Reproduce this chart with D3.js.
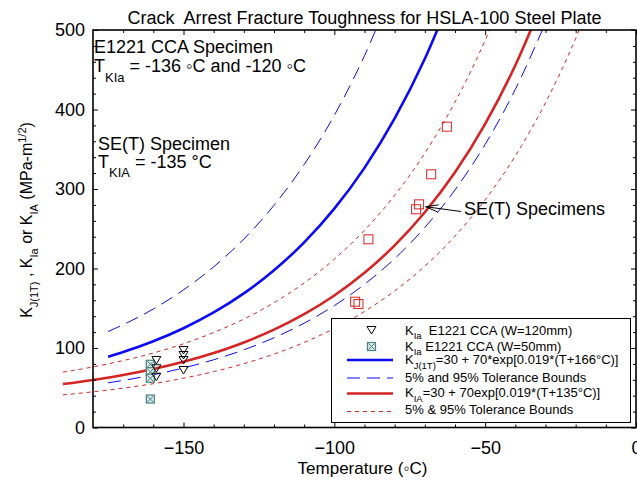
<!DOCTYPE html>
<html>
<head>
<meta charset="utf-8">
<script src="https://cdn.jsdelivr.net/npm/d3@7"></script>
<style>
  body { margin: 0; background: #fff; }
  text { font-family: "Liberation Sans", Arial, Helvetica, sans-serif; fill: #000; white-space: pre; }
</style>
</head>
<body>
<svg id="chart" width="637" height="482"></svg>
<script>
// values

// K_IA curve (SE(T), T0 = -135) and its bounds, every 10 C
const redTemps = [-190, -180, -170, -160, -150, -140, -130, -120, -110, -100, -90, -80, -70, -60, -50, -40, -30, -20, -10];
const kiaMean  = [54.6, 59.8, 66.0, 73.5, 82.6, 93.7, 107.0, 123.1, 142.6, 166.1, 194.6, 229.0, 270.7, 321.0, 382.0, 455.6, 544.7];
const kiaUpper = [69.6, 76.2, 84.2, 93.7, 105.3, 119.5, 136.4, 157.0, 181.8, 211.8, 248.1, 292.0, 345.1, 409.3, 487.1, 580.9];
const kiaLower = [41.0, 44.9, 49.5, 55.1, 62.0, 70.3, 80.3, 92.3, 107.0, 124.6, 146.0, 171.8, 203.0, 240.8, 286.5, 341.7, 408.5, 489.3, 587.0];

// K_J(1T) curve (T0 = -166) and its bounds
const blueTemps = [-175, -170, -160, -150, -140, -130, -120, -110, -100, -90, -80, -70, -60, -50, -40, -30];
const kjMean  = [89.0, 94.9, 108.5, 124.9, 144.7, 168.7, 197.8, 232.9, 275.3, 326.6, 388.7, 463.8, 554.6];
const kjUpper = [120.7, 129.3, 149.1, 173.1, 202.1, 237.1, 279.5, 330.8, 392.7, 467.7, 558.3];
const kjLower = [56.2, 59.2, 66.3, 74.9, 85.2, 97.7, 112.9, 131.2, 153.3, 180.1, 212.4, 251.6, 298.9, 356.1, 425.4, 509.1];

// K_Ia, E1221 CCA, W=120mm
const cca120T = [-159, -159, -159, -150, -150, -150, -150];
const cca120K = [84.9, 74.5, 63.9, 97.5, 91.2, 84.9, 72.3];
// K_Ia, E1221 CCA, W=50mm
const cca50T = [-161, -161, -161, -161];
const cca50K = [79.5, 70.2, 61.9, 35.8];
// SE(T) specimens
const setT = [-62.7, -67.9, -71.9, -72.9, -88.7, -93.1, -92.0];
const setK = [378.4, 318.5, 280.7, 274.5, 236.7, 158.2, 155.3];

const xMajor = [-150, -100, -50, 0];
const yMajor = [0, 100, 200, 300, 400, 500];

const BLUE = '#0a0af5';
const RED = '#d42424';
const TEAL = '#4a8282';

const margin = { top: 30, right: 1, bottom: 54.5, left: 93 };
const W = 637, H = 482;
const width = W - margin.left - margin.right;
const height = H - margin.top - margin.bottom;

const svg = d3.select('#chart');
const g = svg.append('g').attr('transform', `translate(${margin.left},${margin.top})`);

const x = d3.scaleLinear().domain([-180, 0]).range([0, width]);
const y = d3.scaleLinear().domain([0, 500]).range([height, 0]);

// text with sub/superscripts
function richText(sel, px, py, parts, size, subSize, shift) {
  const t = sel.append('text').attr('x', px).attr('y', py).style('font-size', size + 'px');
  let off = 0;
  parts.forEach(p => {
    const want = p.sub ? shift : (p.sup ? -shift : 0);
    t.append('tspan')
      .attr('dy', want - off)
      .style('font-size', (p.sub || p.sup ? subSize : size) + 'px')
      .text(p.t);
    off = want;
  });
  return t;
}

// clip only the top/right, red curves run past the left axis
svg.append('clipPath').attr('id', 'clip')
  .append('rect').attr('x', -40).attr('y', 0).attr('width', width + 40).attr('height', height);

const line = d3.line()
  .x(d => x(d[0]))
  .y(d => y(d[1]))
  .curve(d3.curveMonotoneX);

function curve(temps, vals, color, w, dash) {
  const pts = vals.map((v, i) => [temps[i], v]);
  g.append('path')
    .attr('clip-path', 'url(#clip)')
    .attr('d', line(pts))
    .attr('fill', 'none')
    .attr('stroke', color)
    .attr('stroke-width', w)
    .attr('stroke-dasharray', dash || null);
}

curve(blueTemps, kjUpper, BLUE, 1, '13,7');
curve(blueTemps, kjLower, BLUE, 1, '13,7');
curve(blueTemps, kjMean, BLUE, 2.6);
curve(redTemps, kiaUpper, RED, 1, '4,4');
curve(redTemps, kiaLower, RED, 1, '4,4');
curve(redTemps, kiaMean, RED, 2.6);

// markers
const triPath = 'M-4.5,-3.5L4.5,-3.5L0,4Z';
function crossBox(sel) {
  sel.append('rect').attr('x', -4).attr('y', -4).attr('width', 8).attr('height', 8)
    .attr('fill', '#dde9e9').attr('stroke', TEAL).attr('stroke-width', 1.2);
  sel.append('path').attr('d', 'M-3,-3L3,3M3,-3L-3,3')
    .attr('stroke', TEAL).attr('stroke-width', 1);
}

g.selectAll('.c50').data(cca50T).enter().append('g')
  .attr('transform', (d, i) => `translate(${x(d)},${y(cca50K[i])})`)
  .each(function () { crossBox(d3.select(this)); });

g.selectAll('.c120').data(cca120T).enter().append('path')
  .attr('transform', (d, i) => `translate(${x(d)},${y(cca120K[i])})`)
  .attr('d', triPath)
  .attr('fill', 'none').attr('stroke', '#000').attr('stroke-width', 1);

g.selectAll('.set').data(setT).enter().append('rect')
  .attr('x', d => x(d) - 4.5)
  .attr('y', (d, i) => y(setK[i]) - 4.5)
  .attr('width', 9).attr('height', 9)
  .attr('fill', 'none').attr('stroke', RED).attr('stroke-width', 1);

// axes, ticks inward
function axisSet(gen, vals, size, labels) {
  return gen.tickValues(vals).tickSize(-size).tickFormat(labels ? d3.format('d') : '');
}
const xMinor = d3.range(-170, 0, 10).filter(v => v % 50 !== 0);
const yMinor = d3.range(20, 500, 20).filter(v => v % 100 !== 0);

const gx = g.append('g').attr('transform', `translate(0,${height})`)
  .call(axisSet(d3.axisBottom(x), xMajor, 5, true).tickPadding(14));
g.append('g').attr('transform', `translate(0,${height})`).call(axisSet(d3.axisBottom(x), xMinor, 3, false));
g.append('g').call(axisSet(d3.axisTop(x), xMajor, 5, false));
g.append('g').call(axisSet(d3.axisTop(x), xMinor, 3, false));

const gy = g.append('g').call(axisSet(d3.axisLeft(y), yMajor, 5, true).tickPadding(8));
g.append('g').call(axisSet(d3.axisLeft(y), yMinor, 3, false));
g.append('g').attr('transform', `translate(${width},0)`).call(axisSet(d3.axisRight(y), yMajor, 5, false));
g.append('g').attr('transform', `translate(${width},0)`).call(axisSet(d3.axisRight(y), yMinor, 3, false));

g.selectAll('.domain').remove();
g.selectAll('.tick line').attr('stroke', '#000').attr('stroke-width', 1);
gx.selectAll('text').style('font-size', '18px').attr('font-family', null);
gy.selectAll('text').style('font-size', '18px').attr('font-family', null);

g.append('rect').attr('width', width).attr('height', height)
  .attr('fill', 'none').attr('stroke', '#000').attr('stroke-width', 1.6);

// title and axis labels
svg.append('text').attr('x', margin.left + width / 2).attr('y', 24)
  .attr('text-anchor', 'middle').style('font-size', '18px')
  .text('Crack  Arrest Fracture Toughness for HSLA-100 Steel Plate');

svg.append('text').attr('x', margin.left + width / 2 - 2).attr('y', 474)
  .attr('text-anchor', 'middle').style('font-size', '17px')
  .text('Temperature (\u25E6C)');

const yl = svg.append('g').attr('transform', 'translate(32,220) rotate(-90)');
richText(yl, 0, 0, [
  { t: 'K' }, { t: 'J(1T)', sub: true }, { t: ' , K' }, { t: 'Ia', sub: true },
  { t: ' or K' }, { t: 'IA', sub: true }, { t: ' (MPa-m' }, { t: '1/2', sup: true }, { t: ')' }
], 16, 11, 6).attr('text-anchor', 'middle');

// annotations
svg.append('text').attr('x', 94).attr('y', 53).style('font-size', '18px').text('E1221 CCA Specimen');
richText(svg, 94, 72, [{ t: 'T' }, { t: 'KIa', sub: true }, { t: ' = -136 \u25E6C and -120 \u25E6C' }], 18, 13, 10);
svg.append('text').attr('x', 98).attr('y', 150).style('font-size', '18px').text('SE(T) Specimen');
richText(svg, 98, 168, [{ t: 'T' }, { t: 'KIA', sub: true }, { t: ' = -135 \u00B0C' }], 18, 13, 9);

// SE(T) arrow
const tipX = margin.left + x(-69.7), tipY = margin.top + y(277.7);
const tailX = 461, tailY = 211.5;
svg.append('line').attr('x1', tipX).attr('y1', tipY).attr('x2', tailX).attr('y2', tailY)
  .attr('stroke', '#000').attr('stroke-width', 1);
const ang = Math.atan2(tailY - tipY, tailX - tipX);
[-0.28, 0.28].forEach(a => {
  svg.append('line').attr('x1', tipX).attr('y1', tipY)
    .attr('x2', tipX + 13 * Math.cos(ang + a)).attr('y2', tipY + 13 * Math.sin(ang + a))
    .attr('stroke', '#000').attr('stroke-width', 1);
});
svg.append('text').attr('x', 464).attr('y', 215).style('font-size', '18px').text('SE(T) Specimens');

// legend
const lg = svg.append('g');
lg.append('rect').attr('x', 331.5).attr('y', 318.5).attr('width', 299).attr('height', 104)
  .attr('fill', '#fff').attr('stroke', '#000').attr('stroke-width', 1);
const lx0 = 347, lx1 = 393, lText = 405;
lg.append('path').attr('transform', 'translate(371.5,330)').attr('d', triPath)
  .attr('fill', 'none').attr('stroke', '#000');
crossBox(lg.append('g').attr('transform', 'translate(371.5,346.5)'));
[[360, BLUE, 2.6, null], [378, BLUE, 1, '13,7'], [393.5, RED, 2.6, null], [411.5, RED, 1, '4,4']].forEach(r => {
  lg.append('line').attr('x1', lx0).attr('x2', lx1).attr('y1', r[0]).attr('y2', r[0])
    .attr('stroke', r[1]).attr('stroke-width', r[2]).attr('stroke-dasharray', r[3]);
});
richText(lg, lText, 335, [{ t: 'K' }, { t: 'Ia', sub: true }, { t: '  E1221 CCA (W=120mm)' }], 13, 9.5, 4);
richText(lg, lText, 351, [{ t: 'K' }, { t: 'Ia', sub: true }, { t: ' E1221 CCA (W=50mm)' }], 13, 9.5, 4);
richText(lg, lText, 363.5, [{ t: 'K' }, { t: 'J(1T)', sub: true }, { t: '=30 + 70*exp[0.019*(T+166\u00B0C)]' }], 13, 9.5, 5);
lg.append('text').attr('x', lText).attr('y', 381.5).style('font-size', '13px').text('5% and 95% Tolerance Bounds');
richText(lg, lText, 396.5, [{ t: 'K' }, { t: 'IA', sub: true }, { t: '=30 + 70exp[0.019*(T+135\u00B0C)]' }], 13, 9.5, 5);
lg.append('text').attr('x', lText).attr('y', 413.5).style('font-size', '13px').text('5% & 95% Tolerance Bounds');
</script>
</body>
</html>
